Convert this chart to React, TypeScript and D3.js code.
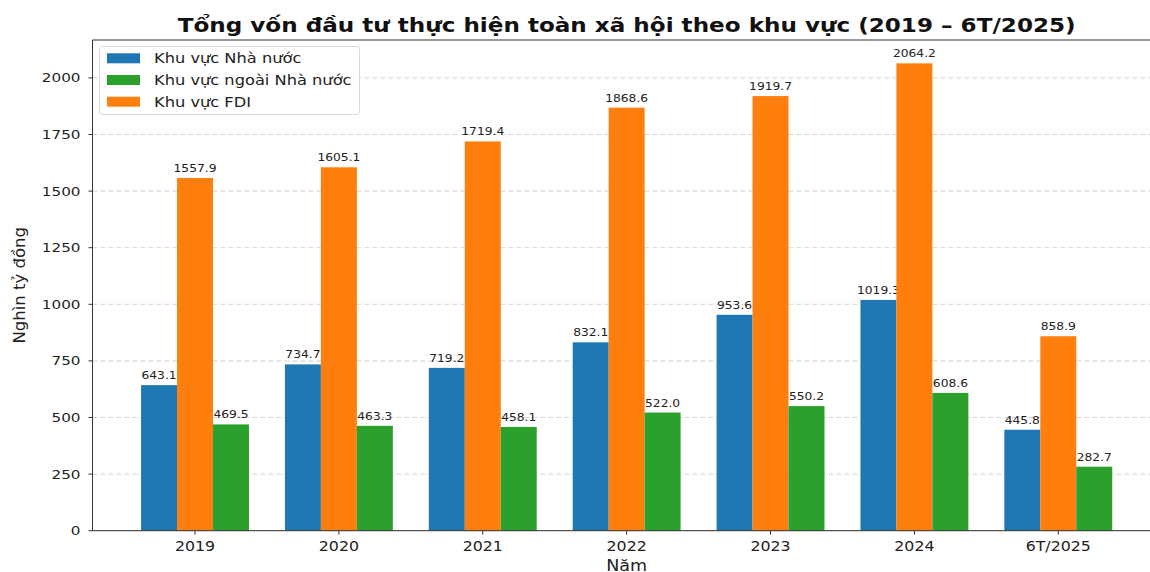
import React from "react";
import * as d3 from "d3";

const categories = ["2019", "2020", "2021", "2022", "2023", "2024", "6T/2025"];
const stateValues = [643.1, 734.7, 719.2, 832.1, 953.6, 1019.3, 445.8];
const nonStateValues = [469.5, 463.3, 458.1, 522.0, 550.2, 608.6, 282.7];
const fdiValues = [1557.9, 1605.1, 1719.4, 1868.6, 1919.7, 2064.2, 858.9];
const yTicks = [0, 250, 500, 750, 1000, 1250, 1500, 1750, 2000];

const series = [
  { name: "Khu vực Nhà nước", values: stateValues, color: "#1f77b4", offset: -1 },
  { name: "Khu vực FDI", values: fdiValues, color: "#ff7f0e", offset: 0 },
  { name: "Khu vực ngoài Nhà nước", values: nonStateValues, color: "#2ca02c", offset: 1 },
];
const legendOrder = [0, 2, 1];

const W = 1150;
const H = 572;
const left = 92.5;
const right = 1160.8;
const top = 40;
const bottom = 530.7;
const FONT = "DejaVu Sans, sans-serif";
const SX = 1.17;

function T(props: any) {
  const { x, y, sx = SX, children, ...rest } = props;
  return (
    <text transform={`translate(${x},${y}) scale(${sx},1)`} x={0} y={0} {...rest}>
      {children}
    </text>
  );
}

export default function App() {
  const x = d3.scaleLinear().domain([-0.7125, 6.7125]).range([left, right]);
  const y = d3.scaleLinear().domain([0, 2167.4]).range([bottom, top]);
  const bw = (x(1) - x(0)) * 0.25;

  return (
    <div style={{ position: "absolute", left: 0, top: 0, width: W, height: H, overflow: "hidden", background: "#fff" }}>
      <svg width={W} height={H} style={{ display: "block" }} fontFamily={FONT}>
        <rect x={0} y={0} width={W} height={H} fill="#fff" />
        {yTicks.map((t) => (
          <line key={"g" + t} x1={left} x2={right} y1={y(t)} y2={y(t)} stroke="#cccccc" strokeWidth={0.8} strokeDasharray="5,3" />
        ))}
        {series.map((s) =>
          s.values.map((v, i) => {
            const cx = x(i) + s.offset * bw;
            return (
              <g key={s.name + i}>
                <rect x={cx - bw / 2} y={y(v)} width={bw} height={bottom - y(v)} fill={s.color} />
                <T x={cx} y={y(v) - 6} textAnchor="middle" fontSize={10.5} fill="#222">
                  {v.toFixed(1)}
                </T>
              </g>
            );
          })
        )}
        {/* spines */}
        <line x1={left} x2={left} y1={top} y2={bottom} stroke="#333" strokeWidth={1} />
        <line x1={left} x2={right} y1={bottom} y2={bottom} stroke="#333" strokeWidth={1} />
        <line x1={left} x2={right} y1={top} y2={top} stroke="#333" strokeWidth={1} />
        <line x1={right} x2={right} y1={top} y2={bottom} stroke="#333" strokeWidth={1} />
        {yTicks.map((t) => (
          <g key={"yt" + t}>
            <line x1={left - 4} x2={left} y1={y(t)} y2={y(t)} stroke="#333" />
            <T x={left - 12} y={y(t) + 4.6} textAnchor="end" fontSize={13} fill="#222">
              {t}
            </T>
          </g>
        ))}
        {categories.map((c, i) => (
          <g key={"xt" + c}>
            <line x1={x(i)} x2={x(i)} y1={bottom} y2={bottom + 4} stroke="#333" />
            <T x={x(i)} y={bottom + 20} textAnchor="middle" fontSize={13.5} fill="#222">
              {c}
            </T>
          </g>
        ))}
        <T x={(left + right) / 2} y={H - 1} textAnchor="middle" fontSize={15} fill="#222">
          Năm
        </T>
        <text transform={`translate(25, ${(top + bottom) / 2}) rotate(-90)`} textAnchor="middle" fontSize={16.5} fill="#222">
          Nghìn tỷ đồng
        </text>
        <text x={(left + right) / 2} y={32} textAnchor="middle" fontSize={19} fontWeight="bold" fill="#111" textLength={898} lengthAdjust="spacingAndGlyphs">
          Tổng vốn đầu tư thực hiện toàn xã hội theo khu vực (2019 – 6T/2025)
        </text>
        {/* legend */}
        <rect x={99.5} y={46.5} width={260} height={68} rx={3} fill="#fff" fillOpacity={0.85} stroke="#d9d9d9" />
        {legendOrder.map((si, k) => (
          <g key={"l" + k}>
            <rect x={107} y={53.3 + k * 21.7} width={33} height={10} fill={series[si].color} />
            <T x={154} y={58.3 + k * 21.7 + 5} sx={1.16} fontSize={14} fill="#222">
              {series[si].name}
            </T>
          </g>
        ))}
      </svg>
    </div>
  );
}
